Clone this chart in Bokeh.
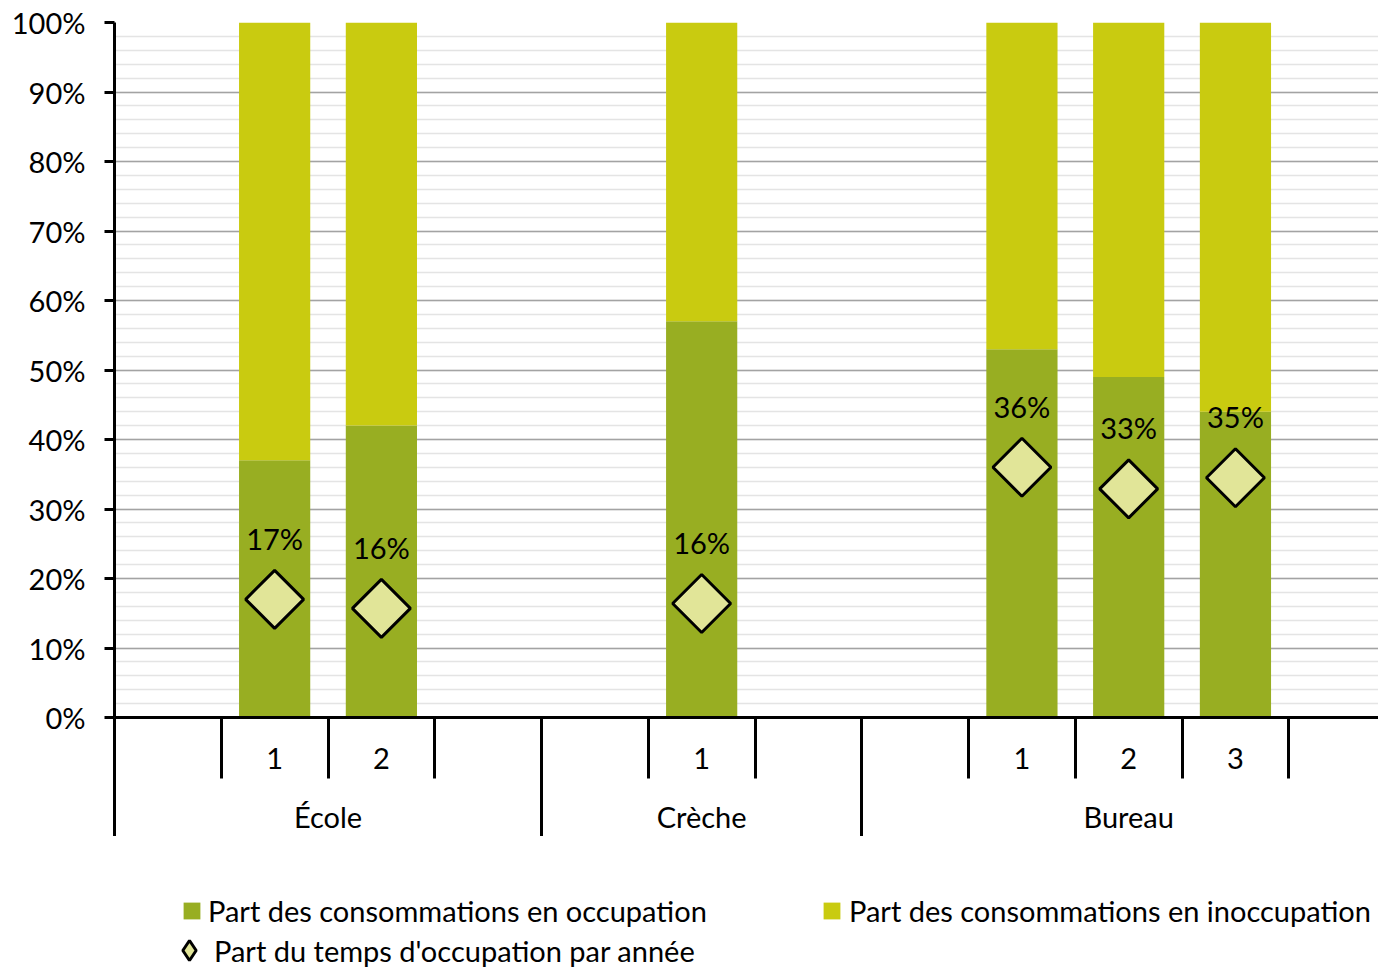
from math import pi
from bokeh.plotting import figure
from bokeh.layouts import column
from bokeh.models import (Range1d, LinearAxis, FixedTicker, PrintfTickFormatter,
                          ColumnDataSource, LabelSet, Legend, LegendItem)
from bokeh.core.properties import value
from bokeh.embed import file_html
from bokeh.resources import INLINE

# ---------------- data ----------------
groups = ["École", "Crèche", "Bureau"]
group_slots = [["", "1", "2", ""], ["", "1", ""], ["", "1", "2", "3", ""]]
occupation = [37, 42, 57, 53, 49, 44]          # % consommations en occupation
inoccupation = [63, 58, 43, 47, 51, 56]        # % consommations en inoccupation
temps = [17.0, 15.7, 16.4, 36.0, 32.9, 34.5]   # % temps d'occupation par année
temps_labels = ["17%", "16%", "16%", "36%", "33%", "35%"]
y_ticks = list(range(0, 101, 10))
y_minor = list(range(0, 101, 2))
series_names = ["Part des consommations en occupation",
                "Part des consommations en inoccupation",
                "Part du temps d'occupation par année"]

# ---------------- derived positions ----------------
slot_labels = [s for g in group_slots for s in g]
bar_x = [i + 0.5 for i, s in enumerate(slot_labels) if s]
bar_sub = [s for s in slot_labels if s]
bounds = list(range(len(slot_labels) + 1))
group_edges = [0]
for g in group_slots:
    group_edges.append(group_edges[-1] + len(g))
group_centers = [(a + b) / 2 for a, b in zip(group_edges[:-1], group_edges[1:])]
total = [o + i for o, i in zip(occupation, inoccupation)]

FONT = "Lato"
FS = "29px"
C_OCC = "#98AE22"
C_INOCC = "#C9CB10"
C_DIA = "#E1E598"

p = figure(width=1378, height=836, x_range=Range1d(0, 11.84), y_range=Range1d(0, 100),
           output_backend="svg", toolbar_location=None, x_axis_location=None,
           min_border_left=114, min_border_right=0, min_border_top=22, min_border_bottom=119)
p.outline_line_color = None
p.xgrid.visible = False

# y axis
p.yaxis.ticker = FixedTicker(ticks=y_ticks, minor_ticks=y_minor)
p.yaxis.formatter = PrintfTickFormatter(format="%d%%")
p.yaxis.axis_line_width = 3
p.yaxis.axis_line_color = "black"
p.yaxis.major_tick_line_width = 3
p.yaxis.major_tick_line_color = "black"
p.yaxis.major_tick_out = 10
p.yaxis.major_tick_in = 0
p.yaxis.minor_tick_line_color = None
p.yaxis.major_label_standoff = 19
p.yaxis.major_label_text_font = FONT
p.yaxis.major_label_text_font_size = FS
p.yaxis.major_label_text_color = "black"

p.ygrid.grid_line_color = "#A3A3A3"
p.ygrid.grid_line_width = 1.5
p.ygrid.minor_grid_line_color = "#E4E4E4"
p.ygrid.minor_grid_line_width = 1.5

# x axis: sub categories
axA = LinearAxis(ticker=FixedTicker(ticks=bar_x, minor_ticks=bounds),
                 major_label_overrides={x: s for x, s in zip(bar_x, bar_sub)})
axA.axis_line_width = 3
axA.axis_line_color = "black"
axA.major_tick_line_color = None
axA.major_tick_out = 0
axA.major_tick_in = 0
axA.minor_tick_line_color = "black"
axA.minor_tick_line_width = 3
axA.minor_tick_out = 61
axA.minor_tick_in = 0
axA.major_label_standoff = -31
axA.major_label_text_font = FONT
axA.major_label_text_font_size = FS
axA.major_label_text_color = "black"
p.add_layout(axA, "below")

# x axis: groups
axB = LinearAxis(ticker=FixedTicker(ticks=group_centers, minor_ticks=group_edges),
                 major_label_overrides={c: g for c, g in zip(group_centers, groups)})
axB.axis_line_color = None
axB.major_tick_line_color = None
axB.major_tick_out = 0
axB.major_tick_in = 0
axB.minor_tick_line_color = "black"
axB.minor_tick_line_width = 3
axB.minor_tick_out = 70
axB.minor_tick_in = 0
axB.major_label_standoff = -43
axB.major_label_text_font = FONT
axB.major_label_text_font_size = FS
axB.major_label_text_color = "black"
p.add_layout(axB, "below")

src = ColumnDataSource(dict(x=bar_x, occ=occupation, tot=total, temps=temps, lab=temps_labels))

p.vbar(x="x", bottom=0, top="occ", width=0.667, fill_color=C_OCC, line_color=None, source=src)
p.vbar(x="x", bottom="occ", top="tot", width=0.667, fill_color=C_INOCC, line_color=None, source=src)
p.scatter(x="x", y="temps", marker="square", angle=pi / 4, size=41,
          fill_color=C_DIA, line_color="black", line_width=3, source=src)

labels = LabelSet(x="x", y="temps", text="lab", y_offset=61, text_align="center",
                  text_baseline="middle", text_font=value(FONT), text_font_size=value(FS),
                  text_color="black", source=src)
p.add_layout(labels)

# ---------------- legend strip (same series, drawn out of this strip's view) ----------------
q = figure(width=1378, height=131, x_range=Range1d(-1, 0), y_range=Range1d(-1, 0),
           output_backend="svg", toolbar_location=None,
           x_axis_location=None, y_axis_location=None,
           min_border_left=114, min_border_right=0, min_border_top=0, min_border_bottom=0)
q.outline_line_color = None
q.xgrid.visible = False
q.ygrid.visible = False

g_occ = q.vbar(x="x", bottom=0, top="occ", width=0.667, fill_color=C_OCC, line_color=None, source=src)
g_inocc = q.vbar(x="x", bottom="occ", top="tot", width=0.667, fill_color=C_INOCC, line_color=None, source=src)
g_dia = q.scatter(x="x", y="temps", marker="diamond", fill_color=C_DIA,
                  line_color="black", line_width=3, source=src)


def make_legend(name, renderer, loc, gw, gh, standoff):
    lg = Legend(items=[LegendItem(label=name, renderers=[renderer])], location=loc)
    lg.padding = 0
    lg.margin = 0
    lg.spacing = 0
    lg.border_line_color = None
    lg.background_fill_alpha = 0
    lg.glyph_width = gw
    lg.glyph_height = gh
    lg.label_height = 30
    lg.label_standoff = standoff
    lg.label_text_font = FONT
    lg.label_text_font_size = FS
    lg.label_text_color = "black"
    q.add_layout(lg)


make_legend(series_names[0], g_occ, (67, 39), 21, 21, 6)
make_legend(series_names[1], g_inocc, (707, 39), 21, 21, 7)
make_legend(series_names[2], g_dia, (50, -8), 50, 50, 0)

layout = column(p, q, spacing=0)

with open("out.html", "w", encoding="utf-8") as f:
    f.write(file_html(layout, INLINE))
